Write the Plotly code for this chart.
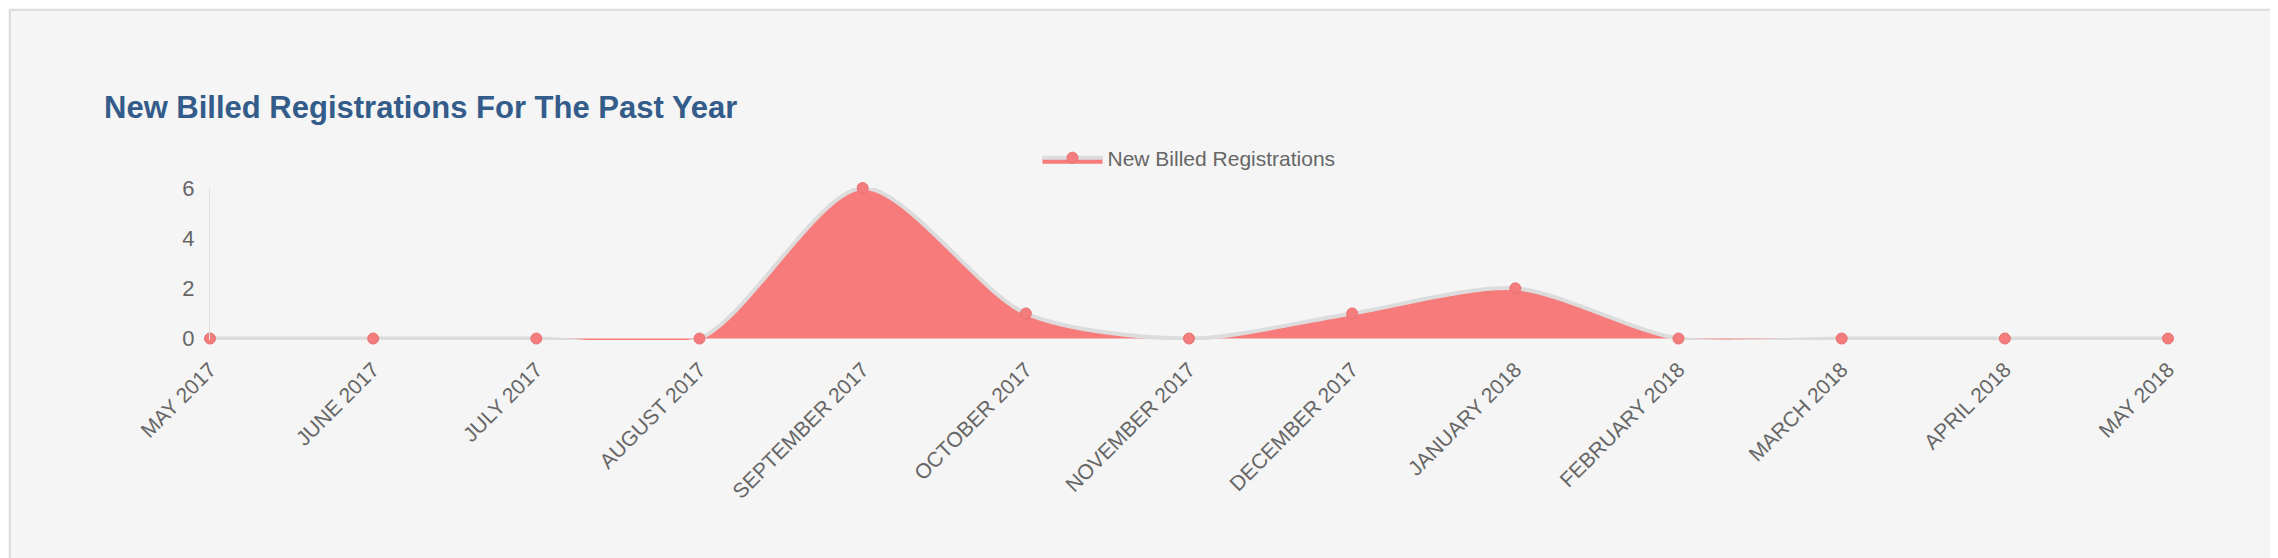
import plotly.graph_objects as go

months = ["MAY 2017","JUNE 2017","JULY 2017","AUGUST 2017","SEPTEMBER 2017","OCTOBER 2017",
          "NOVEMBER 2017","DECEMBER 2017","JANUARY 2018","FEBRUARY 2018","MARCH 2018","APRIL 2018","MAY 2018"]
registrations = [0,0,0,0,6,1,0,1,2,0,0,0,0]
y_ticks = [0,2,4,6]

W, H = 2278, 558
L, R, T, B = 202, 118, 180, 226
pw, ph = W-L-R, H-T-B

fig = go.Figure()
fig.add_trace(go.Scatter(
    x=months, y=registrations, name="New Billed Registrations",
    mode="lines+markers", line=dict(shape="spline", smoothing=0.8, color="#dcdcdc", width=4),
    fill="tozeroy", fillcolor="#f77b7b",
    marker=dict(color="#f47c7c", size=11, line=dict(color="#e87070", width=1)),
    cliponaxis=False,
))
fig.update_layout(
    width=W, height=H, margin=dict(l=L, r=R, t=T, b=B),
    paper_bgcolor="#f5f5f5", plot_bgcolor="#f5f5f5",
    font=dict(family="Liberation Sans, Arial", color="#666", size=21),
    title=dict(text="<b>New Billed Registrations For The Past Year</b>", x=96/W, xanchor="left",
               y=1-99/H, yanchor="middle", font=dict(size=31, color="#335c8a")),
    showlegend=True,
    legend=dict(orientation="h", x=0.5, xanchor="center", y=1+(T-150)/ph, yanchor="middle",
                font=dict(size=21, color="#666"), bgcolor="rgba(0,0,0,0)", itemwidth=60),
    xaxis=dict(type="category", tickangle=-45, showgrid=False, zeroline=False, showline=False,
               ticks="outside", ticklen=8, tickcolor="rgba(0,0,0,0)",
               tickfont=dict(size=21, color="#666"), range=[0, len(months)-1]),
    yaxis=dict(range=[-0.06,6], tickvals=y_ticks, showgrid=False, zeroline=False, showline=True,
               linecolor="#e0e0e0", linewidth=1, ticks="outside", ticklen=10, tickcolor="rgba(0,0,0,0)",
               tickfont=dict(size=22, color="#666")),
    shapes=[dict(type="rect", xref="paper", yref="paper",
                 x0=-(L-2)/pw, x1=1+(R-3)/pw, y0=-(B-4)/ph, y1=1+(T-2)/ph,
                 line=dict(color="#dddddd", width=2), fillcolor="rgba(0,0,0,0)", layer="below")],
)
fig.write_html("out.html")
